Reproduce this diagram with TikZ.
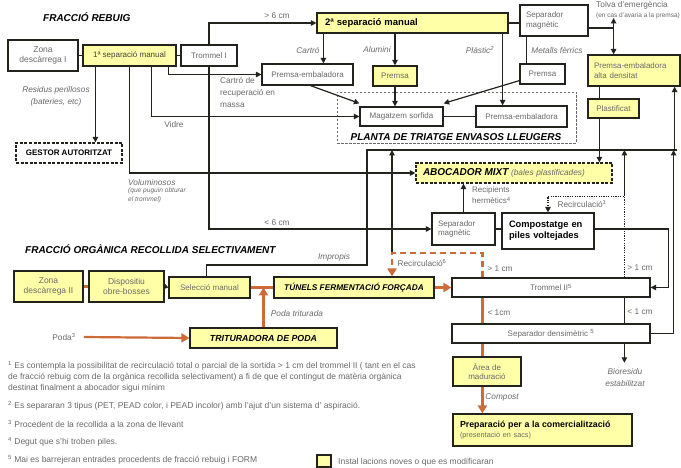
\documentclass[tikz,border=0pt]{standalone}
\usepackage{fontspec}
\setmainfont{Liberation Sans}
\usetikzlibrary{arrows.meta}
\definecolor{yel}{RGB}{255,255,168}
\definecolor{txtgray}{RGB}{105,105,105}
\definecolor{orng}{RGB}{204,106,56}
\definecolor{bord}{RGB}{35,35,30}
\tikzset{
  box/.style={draw=bord, line width=1.2pt, fill=white, inner sep=0pt, text=txtgray, font=\fontsize{8}{9.5}\selectfont, align=center},
  ybox/.style={box, fill=yel},
  ttl/.style={inner sep=0pt, font=\fontsize{10}{12}\selectfont\bfseries\itshape, text=black},
  lbl/.style={inner sep=0pt, text=txtgray, font=\fontsize{8.3}{10}\selectfont, align=center},
  ilbl/.style={inner sep=0pt, text=txtgray, font=\fontsize{8.3}{10}\selectfont\itshape, align=center},
  conn/.style={draw=bord, line width=1.2pt},
  arr/.style={conn, -{Triangle[length=5.5pt,width=5.5pt]}},
  dotln/.style={conn, dash pattern=on 1.2pt off 1.2pt},
  oconn/.style={draw=orng, line width=2.2pt},
  oarr/.style={oconn, -{Triangle[length=8pt,width=9pt]}},
  odash/.style={oconn, dash pattern=on 6pt off 4pt},
  foot/.style={inner sep=0pt, anchor=west, text=txtgray, font=\fontsize{8.5}{10}\selectfont},
}
\begin{document}
\begin{tikzpicture}[x=1pt,y=-1pt]
\useasboundingbox (0,0) rectangle (681,468);

% titles
\node[ttl, anchor=west] (t1) at (43,17) {FRACCIÓ REBUIG};
\node[ttl, anchor=west] (t2) at (25,249) {FRACCIÓ ORGÀNICA RECOLLIDA SELECTIVAMENT};

% planta de triatge (dashed frame)
\node[draw=txtgray, line width=0.9pt, dash pattern=on 2.5pt off 1.5pt, minimum width=239, minimum height=51, inner sep=0pt] (planta) at (456.5,117.5) {};
\node[ttl] (plantalbl) at (456,137) {PLANTA DE TRIATGE ENVASOS LLEUGERS};

% fraccio rebuig nodes
\node[box, minimum width=70, minimum height=31, font=\fontsize{8.5}{10}\selectfont] (zona1) at (43,55.5) {Zona\\descàrrega I};
\node[ybox, minimum width=93, minimum height=21, text=black!75] (sep1) at (129.5,55.5) {1ª separació manual};
\node[box, minimum width=56, minimum height=21] (trom1) at (209,55.5) {Trommel I};
\node[box, dash pattern=on 3pt off 1.5pt, minimum width=106, minimum height=20, text=black, font=\fontsize{8}{9.5}\selectfont\bfseries] (gestor) at (69,153) {GESTOR AUTORITZAT};
\node[ybox, text width=175, inner xsep=8pt, minimum height=20, align=left, text=black, font=\fontsize{9.5}{11}\selectfont\bfseries] (sep2) at (412.5,23) {2ª separació manual};
\node[box, text width=56, inner xsep=6pt, minimum height=31, align=left] (sepmag1) at (554,20.5) {Separador\\magnètic};
\node[box, minimum width=91, minimum height=21] (pe1) at (307.5,74.5) {Premsa-embaladora};
\node[ybox, minimum width=44, minimum height=20] (pr1) at (395,76) {Premsa};
\node[box, minimum width=45, minimum height=20] (pr2) at (542.5,74) {Premsa};
\node[box, minimum width=83, minimum height=19] (mag) at (401.5,116.5) {Magatzem sorfida};
\node[box, minimum width=91, minimum height=21] (pe2) at (521.5,116.5) {Premsa-embaladora};
\node[lbl, font=\fontsize{8.3}{9}\selectfont] (tolva) at (632,5) {Tolva d'emergència};
\node[lbl, font=\fontsize{6.5}{7}\selectfont] (tolva2) at (638,15.5) {(en cas d'avaria a la premsa)};
\node[ybox, text width=80, inner xsep=6pt, minimum height=31, align=left] (pad) at (634,70.5) {Premsa-embaladora\\alta densitat};
\node[ybox, minimum width=51, minimum height=19] (plast) at (613.5,108.5) {Plastificat};
\node[ybox, dash pattern=on 3pt off 1.5pt, text width=182, inner xsep=7pt, minimum height=20, align=left] (abo) at (514,173) {{\fontsize{10}{11}\selectfont\bfseries\itshape\color{black}ABOCADOR MIXT} {\fontsize{8.3}{10}\selectfont\itshape (bales plastificades)}};
\node[box, text width=51, inner xsep=6pt, minimum height=32, align=left] (sm2) at (463.5,229) {Separador\\magnètic};
\node[box, text width=78, inner xsep=7pt, minimum height=36, align=left, text=black, font=\fontsize{9.3}{11}\selectfont\bfseries] (comp) at (548,231) {Compostatge en\\piles voltejades};

% fraccio organica nodes
\node[ybox, minimum width=69, minimum height=31, font=\fontsize{8.5}{10}\selectfont] (zona2) at (48.5,286.5) {Zona\\descàrrega II};
\node[ybox, minimum width=75, minimum height=31, font=\fontsize{8.5}{10}\selectfont] (obre) at (126.5,286.5) {Dispositiu\\obre-bosses};
\node[ybox, minimum width=81, minimum height=21] (selec) at (209.5,287.5) {Selecció manual};
\node[ybox, minimum width=160, minimum height=21, text=black, font=\fontsize{8.3}{10}\selectfont\bfseries\itshape] (tunels) at (354,287.5) {TÚNELS FERMENTACIÓ FORÇADA};
\node[ybox, minimum width=147, minimum height=20, text=black, font=\fontsize{8.8}{10}\selectfont\bfseries\itshape] (tritu) at (263.5,338) {TRITURADORA DE PODA};
\node[box, minimum width=198, minimum height=19] (trom2) at (551,287.5) {Trommel II\textsuperscript{5}};
\node[box, minimum width=198, minimum height=19] (sepdens) at (551,333.5) {Separador densimètric \textsuperscript{5}};
\node[ybox, minimum width=68, minimum height=29] (area) at (487,371.5) {Àrea de\\maduració};
\node[ybox, text width=165, inner xsep=7pt, minimum height=32, align=left, text=black] (prep) at (542.5,430) {{\fontsize{8.8}{10.5}\selectfont\bfseries Preparació per a la comercialització}\\{\fontsize{7.3}{8}\selectfont\color{txtgray}(presentació en sacs)}};
\node[lbl] (poda) at (64,337) {Poda\textsuperscript{3}};
\node[ilbl, font=\fontsize{8.3}{12}\selectfont\itshape] (bio) at (625,378) {Bioresidu\\estabilitzat};

% labels
\node[lbl] (l6a) at (277,16) {> 6 cm};
\node[lbl] (l6b) at (277,223) {< 6 cm};
\node[ilbl] (lcartro) at (308,50) {Cartró};
\node[ilbl] (lalu) at (377,50) {Alumini};
\node[ilbl] (lplas) at (480,50) {Plàstic\textsuperscript{2}};
\node[ilbl] (lmet) at (557,50) {Metalls fèrrics};
\node[lbl, align=left, anchor=north west, font=\fontsize{8.3}{12}\selectfont] (lcr) at (220,77) {Cartró de\\recuperació en\\massa};
\node[lbl] (lvid) at (174,125) {Vidre};
\node[ilbl, font=\fontsize{8.3}{12}\selectfont\itshape] (lres) at (56,96) {Residus perillosos\\(bateries, etc)};
\node[ilbl, anchor=west] (lvol) at (128,183) {Voluminosos};
\node[ilbl, anchor=north west, align=left, font=\fontsize{6.6}{9}\selectfont\itshape] (lvol2) at (128,188) {(que puguin obturar\\el trommel)};
\node[ilbl] (limp) at (334,257) {Impropis};
\node[lbl, anchor=north west, align=left, font=\fontsize{8}{11}\selectfont] (lrec) at (472,187) {Recipients\\hermètics\textsuperscript{4}};
\node[lbl] (lrc1) at (582,204) {Recirculació\textsuperscript{1}};
\node[lbl] (lrc6) at (422,263) {Recirculació\textsuperscript{6}};
\node[lbl] (lg1) at (500,269) {> 1 cm};
\node[lbl] (lg2) at (640,268) {> 1 cm};
\node[lbl] (ll2) at (640,312) {< 1 cm};
\node[lbl] (ll1) at (499,313) {< 1cm};
\node[ilbl] (lpt) at (297,314) {Poda triturada};
\node[ilbl] (lcomp) at (502,397) {Compost};

% footnotes
\node[foot] (f1a) at (8,366) {\textsuperscript{1} Es contempla la possibilitat de recirculació total o parcial de la sortida > 1 cm del trommel II ( tant en el cas};
\node[foot] (f1b) at (8,377) {de fracció rebuig com de la orgànica recollida selectivament) a fi de que el contingut de matèria orgànica};
\node[foot] (f1c) at (8,388) {destinat finalment a abocador sigui mínim};
\node[foot] (f2) at (8,406) {\textsuperscript{2} Es separaran 3 tipus (PET, PEAD color, i PEAD incolor) amb l'ajut d'un sistema d' aspiració.};
\node[foot] (f3) at (8,424) {\textsuperscript{3} Procedent de la recollida a la zona de llevant};
\node[foot] (f4) at (8,442) {\textsuperscript{4} Degut que s'hi troben piles.};
\node[foot] (f5) at (8,460) {\textsuperscript{5} Mai es barrejeran entrades procedents de fracció rebuig i FORM};
\node[ybox, minimum width=14, minimum height=12] (leg) at (324,461) {};
\node[foot] (legt) at (338,462) {Instal lacions noves o que es modificaran};

% ---- connectors: fraccio rebuig
\draw[conn] (zona1.east) -- (sep1.west);
\draw[conn] (sep1.east) -- (trom1.west);
\coordinate (s1a) at ([xshift=13pt]sep1.south west);
\draw[arr] (s1a) -- (s1a |- gestor.north);
\draw[arr] (sep1.south) |- (abo.west);
\coordinate (s1b) at ([xshift=69pt]sep1.south west);
\draw[arr] (s1b) |- (mag.west);
\coordinate (s1c) at ([xshift=86pt]sep1.south west);
\draw[arr] (s1c) |- (pe1.west);
\draw[arr] (trom1.north) |- (sep2.west);
\draw[arr] (trom1.south) |- (sm2.west);
\draw[conn] (sep2.east) -- (sep2.east -| sepmag1.west);
\coordinate (s2a) at ([xshift=7pt]sep2.south west);
\draw[arr] (s2a) -- (s2a |- pe1.north);
\draw[arr] (pr1.north |- sep2.south) -- (pr1.north);
\coordinate (s2c) at ([xshift=-6pt]sep2.south east);
\draw[arr] (s2c) -- (s2c |- pe2.north);
\coordinate (m1) at ([xshift=7pt]sepmag1.south west);
\draw[conn] (m1) -- (m1 |- pr2.north);
\draw[arr] ([xshift=3pt]pe1.south) -- ([yshift=3pt]mag.north west);
\draw[arr] (pr1.south) -- (pr1.south |- mag.north);
\draw[arr] ([yshift=4pt]pr2.south west) -- ([yshift=3pt]mag.north east);
\draw[conn] (mag.east) -- (pe2.west);
\coordinate (sm1e) at ([yshift=-7.5pt]sepmag1.east);
\coordinate (tv) at ([xshift=25pt]sm1e);
\draw[conn] (sm1e) -- (tv);
\coordinate (tvt) at ([yshift=10pt]tv);
\draw[arr] (tv) -- (tvt);
\draw[arr] (tv) -- (tv |- pad.north);
\coordinate (p1) at ([xshift=12pt]pad.south west);
\draw[conn] (p1) -- (p1 |- plast.north);
\coordinate (p2) at ([xshift=12pt]plast.south west);
\draw[arr] (p2) -- (p2 |- abo.north);
\draw[arr] (sm2.north) -- (sm2.north |- abo.south);
\draw[conn] (sm2.east) -- (sm2.east -| comp.west);
\coordinate (cr) at ([xshift=18pt]trom2.east);
\draw[arr] (comp.east |- sm2.east) -| (cr) -- (trom2.east);

% top return line
\coordinate (hL) at (367,150);
\coordinate (hR) at (677,150);
\coordinate (imp) at (367,265);
\draw[conn] ([xshift=-3pt]selec.north) |- (imp) -- (hL) -- (hR);
\coordinate (pu) at ([xshift=-6pt]pad.south east);
\draw[arr] (pu |- hR) -- (pu);

% trommel II outputs
\coordinate (d1) at ([xshift=173pt]trom2.north west);
\coordinate (rc) at ([yshift=81pt]d1);
\draw[dotln, -{Triangle[length=5.5pt,width=5.5pt]}] (d1) -- (rc) -| (comp.north);
\draw[arr] (rc) -- (rc |- hR);
\draw[conn] (d1 |- trom2.south) -- (d1 |- sepdens.north);
\draw[arr, shorten >=6pt] (d1 |- sepdens.south) -- (d1 |- bio.north);
\coordinate (ro) at ([xshift=23pt]sepdens.east);
\draw[arr] (sepdens.east) -| (ro |- hR);

% ---- connectors: fraccio organica (orange)
\draw[oconn] (zona2.east) -- (obre.west);
\draw[oconn, -{Triangle[length=4.5pt,width=5.5pt,color=bord]}] (obre.east) -- (selec.west);
\draw[oconn] (selec.east) -- (tunels.west);
\draw[oarr] (tritu.north) -- (tritu.north |- selec.east);
\draw[oarr] (tunels.east) -- (trom2.west);
\draw[oarr] ([xshift=8pt]poda.east) -- (tritu.west);
\coordinate (o1) at ([xshift=31pt]trom2.north west);
\coordinate (o2) at ([yshift=24pt]o1);
\coordinate (o3) at ([xshift=38pt]tunels.north);
\coordinate (o4) at (o2 -| o3);
\draw[arr] (o4) -- (o4 |- hR);
\draw[odash, -{Triangle[length=8pt,width=9pt]}] (o1) -- (o2) -| (o3);
\draw[oconn] (o1 |- trom2.south) -- (o1 |- sepdens.north);
\draw[oconn] (o1 |- sepdens.south) -- (o1 |- area.north);
\draw[oarr] (o1 |- area.south) -- (o1 |- prep.north);
\end{tikzpicture}
\end{document}
